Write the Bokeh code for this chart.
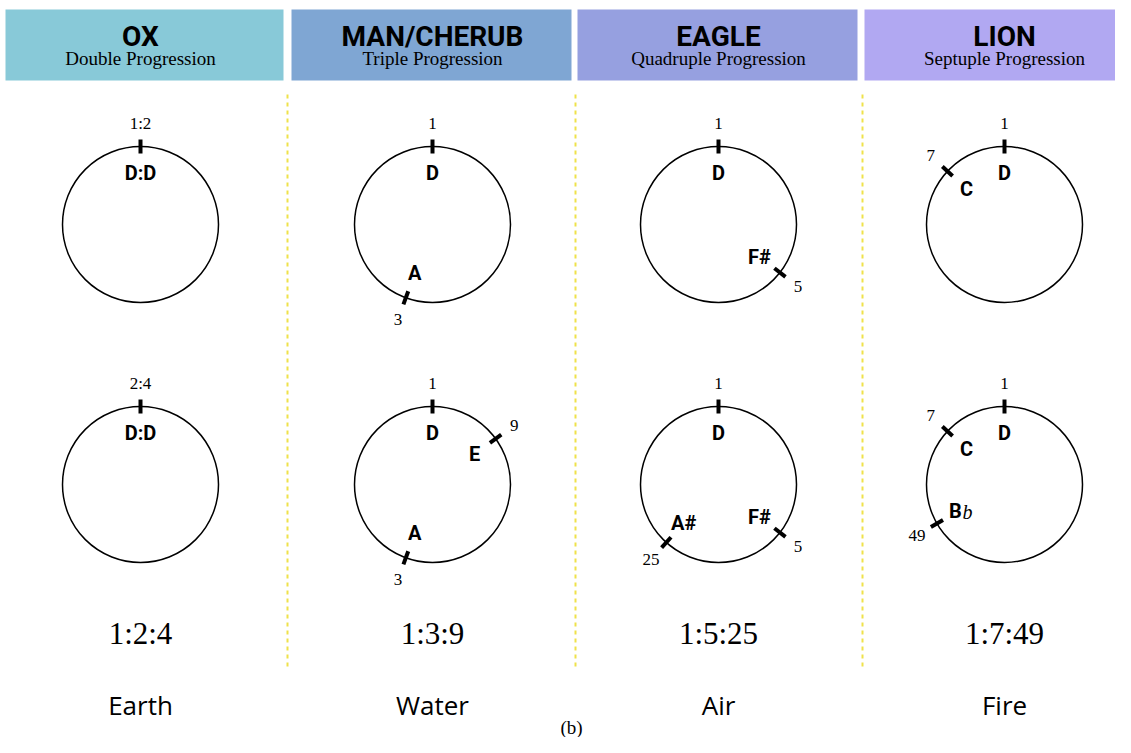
import math
from bokeh.plotting import figure
from bokeh.models import Range1d
from bokeh.core.properties import value
from bokeh.embed import file_html
from bokeh.resources import INLINE

# ---------------- data ----------------
animals = ["OX", "MAN/CHERUB", "EAGLE", "LION"]
progressions = ["Double Progression", "Triple Progression",
                "Quadruple Progression", "Septuple Progression"]
ratios = ["1:2:4", "1:3:9", "1:5:25", "1:7:49"]
elements = ["Earth", "Water", "Air", "Fire"]
header_colors = ["#88C9D8", "#7FA6D3", "#96A0E0", "#B1A8F2"]
caption = "(b)"

# marks on the circles: column, row, angle (deg clockwise from top), note, number
mark_col = [0, 1, 1, 2, 2, 3, 3,
            0, 1, 1, 1, 2, 2, 2, 3, 3, 3]
mark_row = [0, 0, 0, 0, 0, 0, 0,
            1, 1, 1, 1, 1, 1, 1, 1, 1, 1]
mark_angle = [0, 0, 200, 0, 128, 0, 313,
              0, 0, 54, 200, 0, 128, 222, 0, 313, 240]
mark_note = ["D:D", "D", "A", "D", "F#", "D", "C",
             "D:D", "D", "E", "A", "D", "F#", "A#", "D", "C", "Bb"]
mark_num = ["1:2", "1", "3", "1", "5", "1", "7",
            "2:4", "1", "9", "3", "1", "5", "25", "1", "7", "49"]

# ---------------- layout ----------------
W, H = 1115, 737
col_x = [140, 432, 718, 1004]
row_y = [224, 484]
R = 78
box_left = [5, 291, 577, 864]
box_right = [283, 571, 857, 1131]
sep_x = [287, 575, 862]

p = figure(width=W, height=H, output_backend="svg", toolbar_location=None,
           x_range=Range1d(0, W), y_range=Range1d(H, 0),
           min_border=0)
p.axis.visible = False
p.grid.visible = False
p.outline_line_color = None
p.background_fill_color = "white"
p.border_fill_color = "white"

# header boxes
p.quad(left=box_left, right=box_right, top=[9] * 4, bottom=[80] * 4,
       fill_color=header_colors, line_color=None)
p.text(x=col_x, y=[36] * 4, text=animals, text_align="center",
       text_baseline="middle", text_font=value("Roboto"),
       text_font_style="bold", text_font_size="28px", text_color="#000000")
p.text(x=col_x, y=[58] * 4, text=progressions, text_align="center",
       text_baseline="middle", text_font=value("Liberation Serif"),
       text_font_size="19px", text_color="#000000")

# dashed separators
p.segment(x0=sep_x, x1=sep_x, y0=[94] * 3, y1=[667] * 3,
          line_color="#EFE24A", line_width=2, line_dash="4 4")

# circles
cx = [col_x[c] for c in range(4) for r in range(2)]
cy = [row_y[r] for c in range(4) for r in range(2)]
p.circle(x=cx, y=cy, radius=R, fill_color=None, line_color="#000000",
         line_width=1.5)

# ticks and labels
tx0, ty0, tx1, ty1 = [], [], [], []
bx, by, btext = [], [], []
fx, fy = [], []
ux, uy, utext = [], [], []
for c, r, a, note, num in zip(mark_col, mark_row, mark_angle, mark_note, mark_num):
    x0, y0 = col_x[c], row_y[r]
    s, co = math.sin(math.radians(a)), math.cos(math.radians(a))
    tx0.append(x0 + (R - 7) * s); ty0.append(y0 - (R - 7) * co)
    tx1.append(x0 + (R + 7) * s); ty1.append(y0 - (R + 7) * co)
    lx, ly = x0 + (R - 26) * s, y0 - (R - 26) * co
    if note.endswith("b") and len(note) == 2:
        bx.append(lx - 4); by.append(ly); btext.append(note[0])
        fx.append(lx + 8); fy.append(ly + 1)
    else:
        bx.append(lx); by.append(ly); btext.append(note)
    ux.append(x0 + (R + 23) * s); uy.append(y0 - (R + 23) * co); utext.append(num)

p.segment(x0=tx0, y0=ty0, x1=tx1, y1=ty1, line_color="#000000",
          line_width=4, line_cap="butt")
p.text(x=bx, y=by, text=btext, text_align="center", text_baseline="middle",
       text_font=value("Roboto"), text_font_style="bold",
       text_font_size="20px", text_color="#000000")
if fx:
    p.text(x=fx, y=fy, text=["b"] * len(fx), text_align="center",
           text_baseline="middle", text_font=value("Liberation Serif"),
           text_font_style="italic", text_font_size="20px",
           text_color="#000000")
p.text(x=ux, y=uy, text=utext, text_align="center", text_baseline="middle",
       text_font=value("Liberation Serif"), text_font_size="17px",
       text_color="#000000")

# ratios and elements
p.text(x=col_x, y=[633] * 4, text=ratios, text_align="center",
       text_baseline="middle", text_font=value("Liberation Serif"),
       text_font_size="31px", text_color="#000000")
p.text(x=col_x, y=[704] * 4, text=elements, text_align="center",
       text_baseline="middle", text_font=value("Open Sans"),
       text_font_size="26px", text_color="#000000")
p.text(x=[571], y=[727], text=[caption], text_align="center",
       text_baseline="middle", text_font=value("Liberation Serif"),
       text_font_size="19px", text_color="#000000")

open("out.html", "w").write(file_html(p, INLINE))
